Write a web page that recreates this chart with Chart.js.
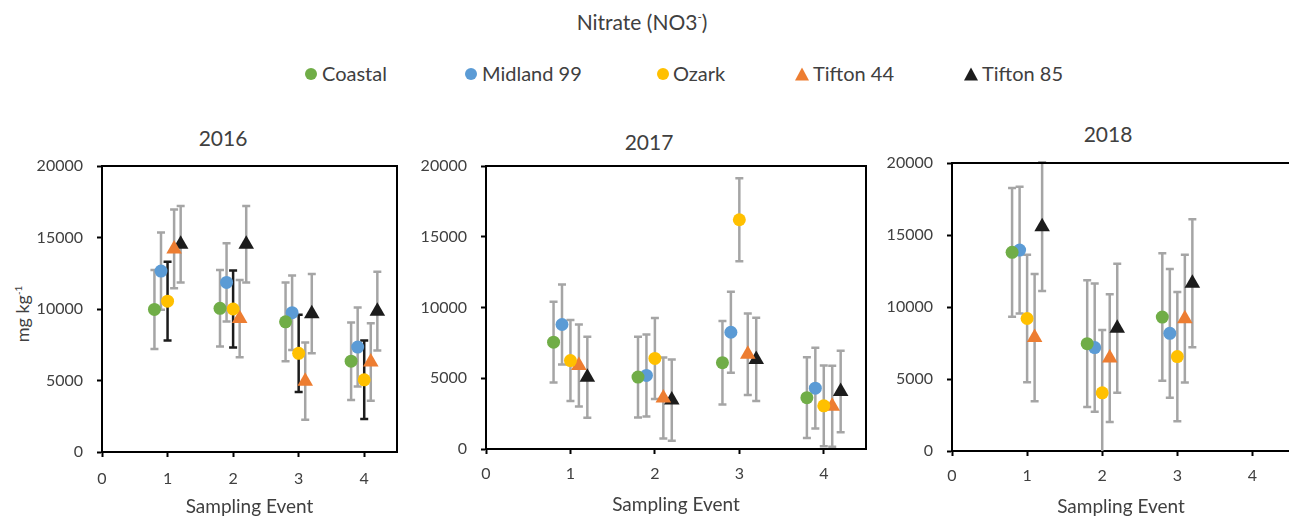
<!DOCTYPE html>
<html>
<head>
<meta charset="utf-8">
<script src="https://cdn.jsdelivr.net/npm/chart.js@4.4.1/dist/chart.umd.min.js"></script>
<style>
  html, body { margin: 0; padding: 0; background: #fff; overflow: hidden; }
  body { width: 1289px; height: 519px; position: relative; font-family: Lato, "Open Sans", sans-serif; color: #404040; }
  canvas { position: absolute; top: 0; }
  .txt { position: absolute; white-space: nowrap; line-height: 1; }
  .ctr { transform: translate(-50%, -50%); }
  .mk { position: absolute; }
  .dot { width: 12px; height: 12px; border-radius: 50%; transform: translate(-50%, -50%); }
  .tri { width: 0; height: 0; border-left: 7.5px solid transparent; border-right: 7.5px solid transparent; transform: translate(-50%, -50%); }
  sup { font-size: 0.55em; vertical-align: 0.7em; line-height: 0; }
</style>
</head>
<body>
<div class="txt ctr" style="left:642px; top:21px; font-size:21px;">Nitrate (NO3<sup>-</sup>)</div>

<div id="legend"></div>

<div class="txt ctr" style="left:223px; top:137px; font-size:21px;">2016</div>
<div class="txt ctr" style="left:649px; top:141px; font-size:21px;">2017</div>
<div class="txt ctr" style="left:1108px; top:133px; font-size:21px;">2018</div>

<div class="txt" style="left:22px; top:314px; font-size:18px; transform: translate(-50%, -50%) rotate(-90deg);">mg kg<sup>-1</sup></div>

<canvas id="c2016" width="420" height="519" style="left:0px"></canvas>
<canvas id="c2017" width="470" height="519" style="left:410px"></canvas>
<canvas id="c2018" width="420" height="519" style="left:880px"></canvas>

<script>
// Sampling events and axis ticks
const events = [1, 2, 3, 4];
const xTickValues = [0, 1, 2, 3, 4];
const yTickValues = [0, 5000, 10000, 15000, 20000];
const seriesNames = ['Coastal', 'Midland 99', 'Ozark', 'Tifton 44', 'Tifton 85'];

// Nitrate means (mg kg-1) and error bar half-widths, 2016
const coastal2016 = [9970, 10050, 9100, 6350];
const coastal2016Err = [2760, 2680, 2750, 2710];
const midland2016 = [12650, 11860, 9740, 7340];
const midland2016Err = [2700, 2740, 2600, 2760];
const ozark2016 = [10550, 10000, 6900, 5050];
const ozark2016Err = [2750, 2700, 2700, 2750];
const tifton44_2016 = [14200, 9330, 4950, 6290];
const tifton44_2016Err = [2750, 2700, 2700, 2710];
const tifton85_2016 = [14530, 14530, 9670, 9850];
const tifton85_2016Err = [2670, 2670, 2770, 2750];

// 2017
const coastal2017 = [7550, 5080, 6100, 3630];
const coastal2017Err = [2850, 2860, 2950, 2860];
const midland2017 = [8800, 5200, 8250, 4300];
const midland2017Err = [2820, 2900, 2870, 2850];
const ozark2017 = [6250, 6400, 16200, 3050];
const ozark2017Err = [2860, 2860, 2940, 2850];
const tifton44_2017 = [5900, 3610, 6700, 3020];
const tifton44_2017Err = [2900, 2860, 2880, 2860];
const tifton85_2017 = [5070, 3460, 6330, 4060];
const tifton85_2017Err = [2860, 2870, 2940, 2880];

// 2018 (no fourth sampling event)
const coastal2018 = [13800, 7450, 9300, null];
const coastal2018Err = [4470, 4400, 4430, null];
const midland2018 = [13950, 7180, 8170, null];
const midland2018Err = [4400, 4450, 4470, null];
const ozark2018 = [9200, 4040, 6560, null];
const ozark2018Err = [4430, 4360, 4490, null];
const tifton44_2018 = [7880, 6450, 9190, null];
const tifton44_2018Err = [4420, 4430, 4430, null];
const tifton85_2018 = [15580, 8520, 11650, null];
const tifton85_2018Err = [4470, 4480, 4450, null];

// Marker styling per cultivar; dodge spreads the five cultivars around each event
const seriesStyle = [
  { color: '#70AD47', shape: 'circle',   radius: 6.5, dodge: -0.2 },
  { color: '#5B9BD5', shape: 'circle',   radius: 6.5, dodge: -0.1 },
  { color: '#FFC000', shape: 'circle',   radius: 6.5, dodge: 0 },
  { color: '#ED7D31', shape: 'triangle', radius: 9, dodge: 0.1 },
  { color: '#1C1C1C', shape: 'triangle', radius: 9, dodge: 0.2 }
];

const GREY_BAR = '#A5A5A5';
const BLACK_BAR = '#1C1C1C';
const TEXT = '#404040';
const FONT = 'Lato, "Open Sans", sans-serif';

// HTML legend
const legendPos = [
  { mark: 311, text: 322 }, { mark: 471, text: 482 }, { mark: 663, text: 673 },
  { mark: 802, text: 813 }, { mark: 971, text: 982 }
];
const legend = document.getElementById('legend');
seriesNames.forEach((name, i) => {
  const st = seriesStyle[i];
  const m = document.createElement('div');
  if (st.shape === 'circle') {
    m.className = 'mk dot';
    m.style.background = st.color;
  } else {
    m.className = 'mk tri';
    m.style.borderBottom = '13px solid ' + st.color;
  }
  m.style.left = legendPos[i].mark + 'px';
  m.style.top = '74px';
  legend.appendChild(m);
  const t = document.createElement('div');
  t.className = 'txt';
  t.style.left = legendPos[i].text + 'px';
  t.style.top = '63px';
  t.style.fontSize = '20px';
  t.textContent = name;
  legend.appendChild(t);
});

// Error bars drawn beneath the markers, using the chart's own scales
const errorBars = {
  id: 'errorBars',
  beforeDatasetsDraw(chart) {
    const { ctx, chartArea, scales: { x, y } } = chart;
    ctx.save();
    ctx.beginPath();
    ctx.rect(chartArea.left, chartArea.top - 4, chartArea.right - chartArea.left, chartArea.bottom - chartArea.top + 4);
    ctx.clip();
    chart.data.datasets.forEach((ds) => {
      ctx.strokeStyle = ds.errColor;
      ctx.lineWidth = 2.5;
      ds.data.forEach((pt) => {
        if (pt.y == null || pt.err == null) return;
        const px = x.getPixelForValue(pt.x);
        const pTop = y.getPixelForValue(pt.y + pt.err);
        const pBot = y.getPixelForValue(pt.y - pt.err);
        ctx.beginPath();
        ctx.moveTo(px, pTop); ctx.lineTo(px, pBot);
        ctx.moveTo(px - 4, pTop); ctx.lineTo(px + 4, pTop);
        ctx.moveTo(px - 4, pBot); ctx.lineTo(px + 4, pBot);
        ctx.stroke();
      });
    });
    ctx.restore();
  }
};

// Top and right sides of the plot frame
const plotFrame = {
  id: 'plotFrame',
  afterDraw(chart) {
    const { ctx, chartArea: a } = chart;
    ctx.save();
    ctx.strokeStyle = '#000';
    ctx.lineWidth = 2;
    ctx.beginPath();
    ctx.moveTo(a.left, a.top); ctx.lineTo(a.right, a.top); ctx.lineTo(a.right, a.bottom);
    ctx.stroke();
    ctx.restore();
  }
};

function makePanel(id, values, errors, errColors, box) {
  const datasets = values.map((vals, i) => {
    const st = seriesStyle[i];
    return {
      label: seriesNames[i],
      data: events.map((e, j) => ({ x: e + st.dodge, y: vals[j], err: errors[i][j] })),
      backgroundColor: st.color,
      borderWidth: 0,
      pointStyle: st.shape,
      pointRadius: st.radius,
      pointHoverRadius: st.radius,
      showLine: false,
      errColor: errColors[i]
    };
  });
  const axisGrid = { drawOnChartArea: false, drawTicks: true, tickLength: 5, tickColor: '#000', tickWidth: 2 };
  const axisBorder = { display: true, color: '#000', width: 2 };
  return new Chart(document.getElementById(id), {
    type: 'scatter',
    data: { datasets },
    options: {
      responsive: false,
      animation: false,
      events: [],
      layout: { padding: { left: 0, top: box.top, right: box.right, bottom: 0 } },
      plugins: { legend: { display: false }, tooltip: { enabled: false } },
      scales: {
        x: {
          type: 'linear', min: 0, max: 4.5,
          afterBuildTicks: (s) => { s.ticks = xTickValues.map(v => ({ value: v })); },
          afterFit: (s) => { s.height = box.xHeight; },
          ticks: { font: { family: FONT, size: 16 }, color: TEXT, padding: box.xPad, maxRotation: 0 },
          grid: axisGrid, border: axisBorder,
          title: { display: true, text: 'Sampling Event', color: TEXT, font: { family: FONT, size: 19 }, padding: { top: 0, bottom: box.titlePad } }
        },
        y: {
          type: 'linear', min: 0, max: 20000,
          afterBuildTicks: (s) => { s.ticks = yTickValues.map(v => ({ value: v })); },
          afterFit: (s) => { s.width = box.yWidth; },
          ticks: { font: { family: FONT, size: 16 }, color: TEXT, padding: 14, callback: (v) => String(v) },
          grid: axisGrid, border: axisBorder
        }
      }
    },
    plugins: [errorBars, plotFrame]
  });
}

const grey5 = [GREY_BAR, GREY_BAR, GREY_BAR, GREY_BAR, GREY_BAR];

makePanel('c2016',
  [coastal2016, midland2016, ozark2016, tifton44_2016, tifton85_2016],
  [coastal2016Err, midland2016Err, ozark2016Err, tifton44_2016Err, tifton85_2016Err],
  [GREY_BAR, GREY_BAR, BLACK_BAR, GREY_BAR, GREY_BAR],
  { top: 166, right: 23, yWidth: 102, xHeight: 67, xPad: 12, titlePad: 1 });

makePanel('c2017',
  [coastal2017, midland2017, ozark2017, tifton44_2017, tifton85_2017],
  [coastal2017Err, midland2017Err, ozark2017Err, tifton44_2017Err, tifton85_2017Err],
  grey5,
  { top: 166, right: 14, yWidth: 76, xHeight: 70, xPad: 10, titlePad: 3 });

makePanel('c2018',
  [coastal2018, midland2018, ozark2018, tifton44_2018, tifton85_2018],
  [coastal2018Err, midland2018Err, ozark2018Err, tifton44_2018Err, tifton85_2018Err],
  grey5,
  { top: 163, right: 10, yWidth: 72, xHeight: 68, xPad: 10, titlePad: 1 });
</script>
</body>
</html>
